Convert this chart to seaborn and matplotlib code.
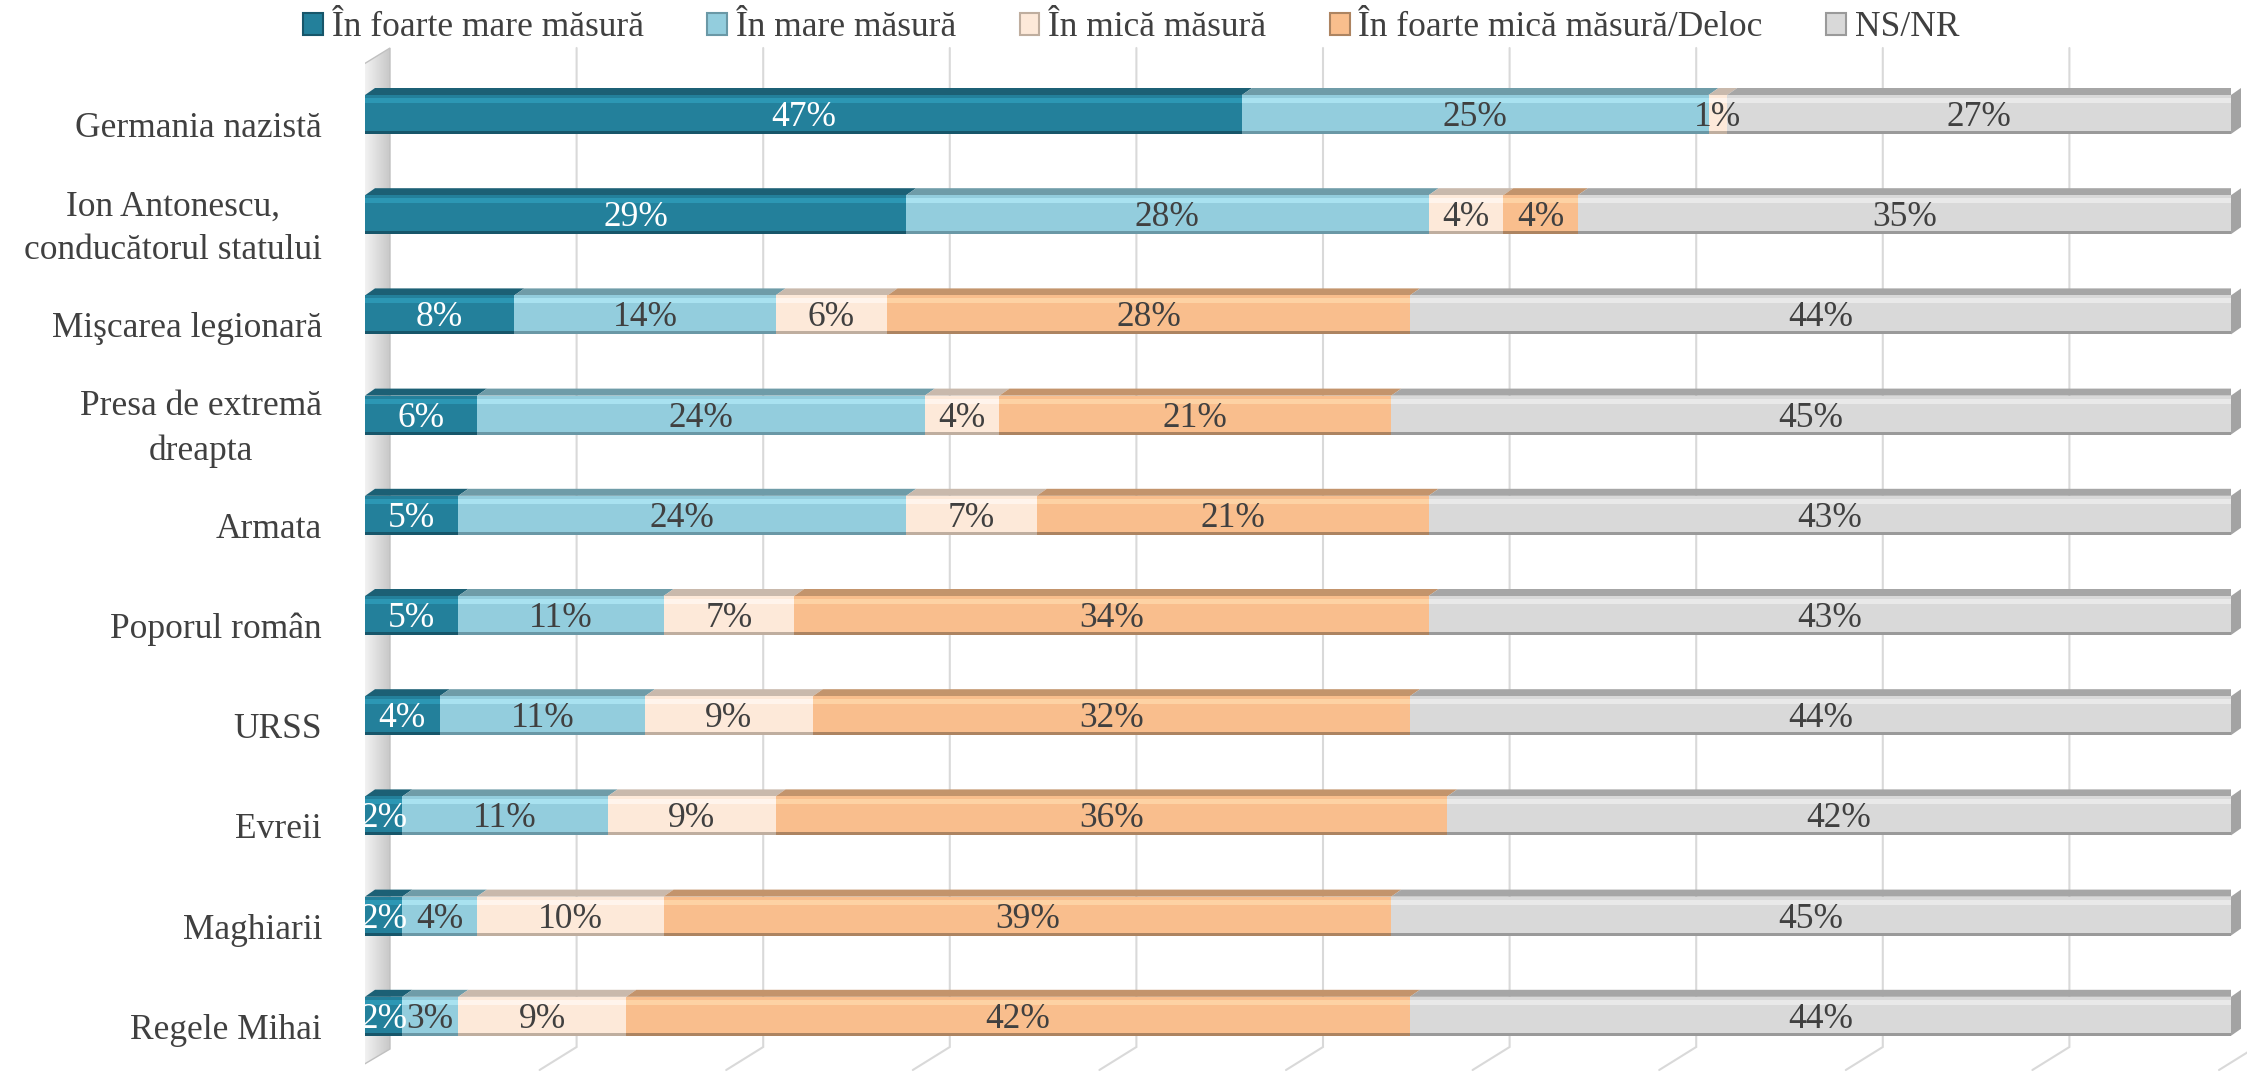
import numpy as np
import pandas as pd
import matplotlib
matplotlib.use("Agg")
import matplotlib.pyplot as plt
import seaborn as sns
from matplotlib.patches import Polygon, Patch, Rectangle
from matplotlib.colors import LinearSegmentedColormap

# ---------------- data ----------------
categories = ["Germania nazistă", "Ion Antonescu,\nconducătorul statului", "Mişcarea legionară",
              "Presa de extremă\ndreapta", "Armata", "Poporul român", "URSS", "Evreii",
              "Maghiarii", "Regele Mihai"]
series_names = ["În foarte mare măsură", "În mare măsură", "În mică măsură",
                "În foarte mică măsură/Deloc", "NS/NR"]
foarte_mare = [47, 29, 8, 6, 5, 5, 4, 2, 2, 2]
mare = [25, 28, 14, 24, 24, 11, 11, 11, 4, 3]
mica = [1, 4, 6, 4, 7, 7, 9, 9, 10, 9]
foarte_mica = [0, 4, 28, 21, 21, 34, 32, 36, 39, 42]
ns_nr = [27, 35, 44, 45, 43, 43, 44, 42, 45, 44]
series_values = [foarte_mare, mare, mica, foarte_mica, ns_nr]

# styles: front, top face, highlight, bottom edge, text colour
front_cols = ["#23809b", "#93cddd", "#fde9d9", "#f9be8d", "#d9d9d9"]
top_cols = ["#1c6075", "#6f9ca8", "#c9b9ac", "#c3946c", "#a6a6a6"]
hi_cols = ["#2c97b4", "#a9e2f0", "#fff4ec", "#fdd2a4", "#e9e9e9"]
bot_cols = ["#17566a", "#6a98a6", "#bfae9f", "#ad8461", "#9a9a9a"]
txt_cols = ["white", "#404040", "#404040", "#404040", "#404040"]

sns.set_theme(style="white")
plt.rcParams["font.family"] = ["Liberation Serif", "DejaVu Serif"]

FS = 25.5
W, H, DPI = 2247, 1074, 100
fig = plt.figure(figsize=(W / DPI, H / DPI), dpi=DPI)
ax = fig.add_axes([365 / W, 0, 1866 / W, 1])

XPX = 100 / 1866.0          # data units per pixel (x)
YPX = 1 / 100.2             # data units per pixel (y)
Y0 = -114.5 * YPX
def ypx(p):
    return Y0 + p * YPX

BAR_H = 39 * YPX
DX, DY = 10 * XPX, 7 * YPX

n = len(categories)
vals = np.array(series_values, dtype=float)
cums = np.cumsum(vals, axis=0)
lefts = cums - vals

# front faces via seaborn (cumulative, drawn from the widest)
for k in range(len(series_names) - 1, -1, -1):
    df = pd.DataFrame({"cat": categories, "cum": cums[k]})
    sns.barplot(data=df, x="cum", y="cat", orient="h", color=front_cols[k],
                saturation=1, width=BAR_H, ax=ax, zorder=3, edgecolor="none", linewidth=0)

# left wall with gradient
wall = [(-14 * XPX, ypx(72)), (25 * XPX, ypx(48)), (25 * XPX, ypx(1049)), (-14 * XPX, ypx(1072))]
grad = np.linspace(0, 1, 64)[None, :]
cmap = LinearSegmentedColormap.from_list("w", ["#c4c4c4", "#f4f4f4", "#dedede", "#c8c8c8"])
im = ax.imshow(grad, cmap=cmap, aspect="auto", extent=(-14 * XPX, 25 * XPX, ypx(1072), ypx(48)),
               zorder=0.5, interpolation="bilinear")
wpoly = Polygon(wall, closed=True, facecolor="none", edgecolor="#c0c0c0", lw=1.0, zorder=0.6)
ax.add_patch(wpoly)
im.set_clip_path(wpoly)

# gridlines (back wall + floor diagonal)
for v in range(10, 101, 10):
    xs = [v + 25 * XPX, v + 25 * XPX, v - 12 * XPX]
    ys = [ypx(48), ypx(1047), ypx(1070)]
    ax.plot(xs, ys, color="#d9d9d9", lw=1.5, zorder=0.4, solid_joinstyle="miter", clip_on=False)

# 3D details per segment
for k in range(len(series_names)):
    for i in range(n):
        w = vals[k, i]
        if w <= 0:
            continue
        l = lefts[k, i]
        ytop = i - BAR_H / 2
        ybot = i + BAR_H / 2
        top = Polygon([(l, ytop), (l + w, ytop), (l + w + DX, ytop - DY), (l + DX, ytop - DY)],
                      closed=True, facecolor=top_cols[k], edgecolor="none", zorder=2.5 + 0.01 * k)
        ax.add_patch(top)
        ax.add_patch(Rectangle((l, ytop + 3 * YPX), w, 5 * YPX, facecolor=hi_cols[k],
                               edgecolor="none", zorder=3.5))
        ax.add_patch(Rectangle((l, ybot - 3 * YPX), w, 3 * YPX, facecolor=bot_cols[k],
                               edgecolor="none", zorder=3.5))
        ax.text(l + w / 2, i + 3 * YPX, f"{int(w)}%", ha="center", va="center",
                fontsize=FS, color=txt_cols[k], zorder=6)

# right side face of each whole bar
for i in range(n):
    r = cums[-1, i]
    ytop = i - BAR_H / 2
    ybot = i + BAR_H / 2
    side = Polygon([(r, ytop), (r + DX, ytop - DY), (r + DX, ybot - DY), (r, ybot)],
                   closed=True, facecolor="#a3a3a3", edgecolor="none", zorder=2.4, clip_on=False)
    ax.add_patch(side)

# category labels
for i, c in enumerate(categories):
    ax.text(-43 * XPX, i + 14 * YPX, c, ha="right", va="center", multialignment="center",
            fontsize=FS, color="#404040", linespacing=1.42, zorder=6, clip_on=False)

ax.set_xlim(0, 100)
ax.set_ylim(ypx(H), ypx(0))
ax.axis("off")

handles = [Patch(facecolor=front_cols[k], edgecolor=bot_cols[k], lw=1.5) for k in range(5)]
fig.legend(handles, series_names, loc="center", bbox_to_anchor=(0.5035, 1 - 28 / H), ncol=5,
           frameon=False, fontsize=FS, handlelength=0.55, handleheight=0.55,
           handletextpad=0.25, columnspacing=1.8, labelcolor="#404040", borderaxespad=0)

fig.savefig("out.png", dpi=DPI, facecolor="white")
